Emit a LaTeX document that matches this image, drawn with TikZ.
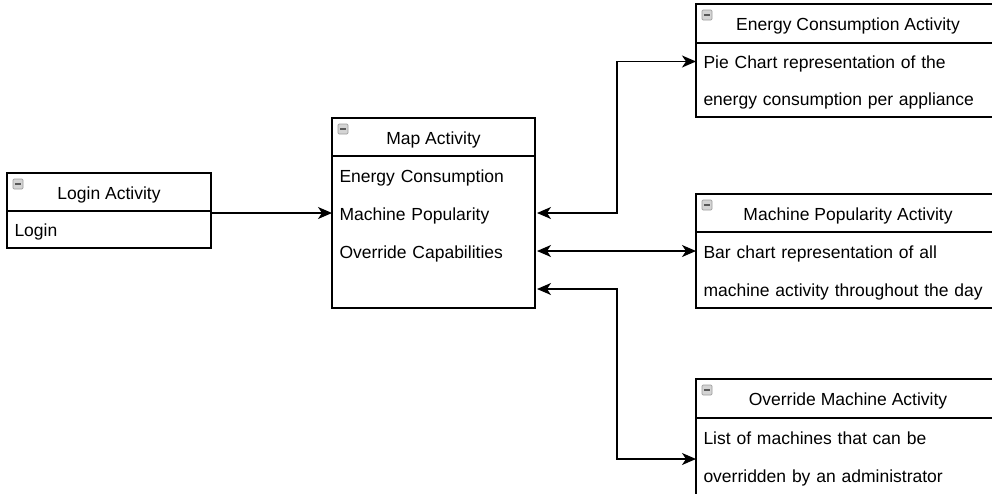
\documentclass[tikz,border=0pt]{standalone}
\usepackage{fontspec}
\setmainfont{Liberation Sans}
\usetikzlibrary{arrows.meta,calc}

\tikzset{
  diag font/.style={font=\fontsize{17.5pt}{20pt}\selectfont},
  % class header: title centred on a fixed baseline
  hdr/.style={draw=black, line width=1.4pt, anchor=north west, inner sep=0pt,
    outer sep=0pt, text height=18pt, text depth=4pt, diag font, fill=white},
  % class body frame
  bodybox/.style={draw=black, line width=1.4pt, anchor=north west, inner sep=0pt,
    outer sep=0pt, fill=white},
  % one attribute row, left aligned
  rowtext/.style={anchor=north west, inner ysep=0pt, inner xsep=7.5pt,
    text height=18pt, text depth=4pt, align=left, diag font, outer sep=0pt},
  conn/.style={line width=1.4pt, draw=black},
  tip/.tip={Stealth[length=14pt, width=12pt, inset=4pt]},
  collapse/.pic={
    \draw[draw=black!38, fill=black!17, line width=0.7pt, rounded corners=1.2pt]
      (0,0) rectangle (10,10);
    \draw[black!65, line width=1.8pt] (2.3,5) -- (7.7,5);
  }
}

\begin{document}
\begin{tikzpicture}[x=1pt, y=-1pt]
  \useasboundingbox (0,0) rectangle (992,493);
  \fill[white] (0,0) rectangle (992,493);
  \clip (0,0) rectangle (992,493);

  % ---- Login Activity
  \node[hdr, minimum width=204pt, minimum height=38pt] (loginH) at (7,173) {Login Activity};
  \node[bodybox, rowtext, text width=189pt, minimum height=37pt, draw=black, line width=1.4pt]
    (loginB) at (loginH.south west) {Login};
  \pic at ($(loginH.north west)+(6,6)$) {collapse};

  % ---- Map Activity
  \node[hdr, minimum width=203pt, minimum height=38pt] (mapH) at (332,118) {Map Activity};
  \node[bodybox, minimum width=203pt, minimum height=152pt] (mapB) at (mapH.south west) {};
  \node[rowtext, text width=188pt, minimum height=38pt] (mapR1) at (mapB.north west) {Energy Consumption};
  \node[rowtext, text width=188pt, minimum height=38pt] (mapR2) at (mapR1.south west) {Machine Popularity};
  \node[rowtext, text width=188pt, minimum height=38pt] (mapR3) at (mapR2.south west) {Override Capabilities};
  \node[rowtext, text width=188pt, minimum height=38pt] (mapR4) at (mapR3.south west) {};
  \pic at ($(mapH.north west)+(6,6)$) {collapse};

  % ---- Energy Consumption Activity
  \node[hdr, minimum width=304pt, minimum height=39pt] (ecH) at (696,4) {Energy Consumption Activity};
  \node[bodybox, minimum width=304pt, minimum height=74pt] (ecB) at (ecH.south west) {};
  \node[rowtext, text width=289pt, minimum height=37pt] (ecR1) at (ecB.north west) {Pie Chart representation of the};
  \node[rowtext, text width=289pt, minimum height=37pt] (ecR2) at (ecR1.south west) {energy consumption per appliance};
  \pic at ($(ecH.north west)+(6,6)$) {collapse};

  % ---- Machine Popularity Activity
  \node[hdr, minimum width=304pt, minimum height=38pt] (mpH) at (696,194) {Machine Popularity Activity};
  \node[bodybox, minimum width=304pt, minimum height=76pt] (mpB) at (mpH.south west) {};
  \node[rowtext, text width=289pt, minimum height=38pt] (mpR1) at (mpB.north west) {Bar chart representation of all};
  \node[rowtext, text width=289pt, minimum height=38pt] (mpR2) at (mpR1.south west) {machine activity throughout the day};
  \pic at ($(mpH.north west)+(6,6)$) {collapse};

  % ---- Override Machine Activity
  \node[hdr, minimum width=304pt, minimum height=39pt] (ovH) at (696,379) {Override Machine Activity};
  \node[bodybox, minimum width=304pt, minimum height=82pt] (ovB) at (ovH.south west) {};
  \node[rowtext, text width=289pt, minimum height=38pt] (ovR1) at (ovB.north west) {List of machines that can be};
  \node[rowtext, text width=289pt, minimum height=38pt] (ovR2) at (ovR1.south west) {overridden by an administrator};
  \pic at ($(ovH.north west)+(6,6)$) {collapse};

  % ---- connectors
  \coordinate (trunk) at (617,0);
  \draw[conn, -{tip}] (loginB.east |- mapR2.west) -- (mapR2.west);
  \draw[conn, {tip}-{tip}] ([xshift=2pt]mapR2.east) -- (mapR2.east -| trunk) |- (ecR1.west);
  \draw[conn, {tip}-{tip}] ([xshift=2pt]mapR3.east) -- (mpR1.west);
  \draw[conn, {tip}-{tip}] ([xshift=2pt]mapR4.east) -- (mapR4.east -| trunk) |- (ovB.west);
\end{tikzpicture}
\end{document}
